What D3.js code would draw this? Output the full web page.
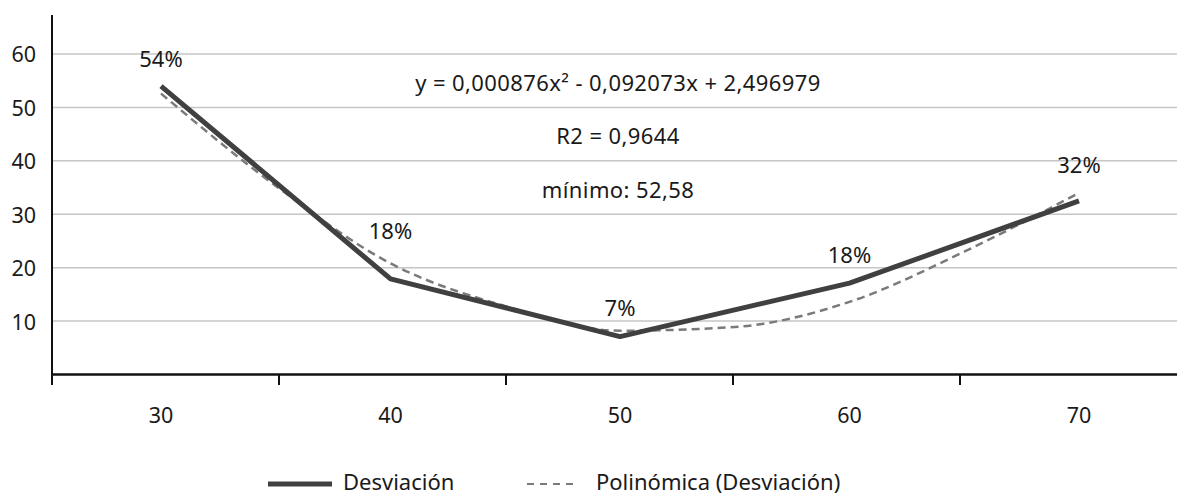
<!DOCTYPE html>
<html>
<head>
<meta charset="utf-8">
<script src="https://cdn.jsdelivr.net/npm/d3@7"></script>
<style>
  html, body { margin: 0; padding: 0; background: #fff; }
  svg { display: block; font-family: "Noto Sans", "Open Sans", sans-serif; }
</style>
</head>
<body>
<svg id="chart" width="1177" height="495"></svg>
<script>
// ---- data ----
const categories = [30, 40, 50, 60, 70];
const desviacion = [54, 17.9, 7.1, 17.1, 32.5];
const labels = ["54%", "18%", "7%", "18%", "32%"];
// polynomial trend line
const trendX = [30, 35, 40, 45, 50, 55, 60, 65, 70];
const trendY = [52.6, 35.3, 20.8, 12.8, 8.2, 8.9, 13.6, 23.0, 34.0];
const yTicks = [10, 20, 30, 40, 50, 60];
const annotations = ["y = 0,000876x\u00b2 - 0,092073x + 2,496979", "R2 = 0,9644", "mínimo: 52,58"];
const legendNames = ["Desviación", "Polinómica (Desviación)"];

const svg = d3.select("#chart");

const x = d3.scaleLinear().domain([30, 70]).range([161, 1079]);
const band = d3.scaleBand().domain(categories).range([52, 1187]).padding(0);
const y = d3.scaleLinear().domain([0, 67.3]).range([374.5, 15]);

const FS = 21.5;

// gridlines
svg.append("g").selectAll("line").data(yTicks).join("line")
  .attr("x1", 52).attr("x2", 1177)
  .attr("y1", d => y(d)).attr("y2", d => y(d))
  .attr("stroke", "#c6c6c6").attr("stroke-width", 1.5);

// y tick labels
svg.append("g").selectAll("text").data(yTicks).join("text")
  .attr("x", 36).attr("y", d => y(d))
  .attr("text-anchor", "end").attr("dominant-baseline", "central")
  .attr("font-size", FS).attr("fill", "#1a1a1a")
  .text(d => d);

// axes lines
svg.append("line").attr("x1", 52).attr("x2", 52).attr("y1", 15).attr("y2", 385)
  .attr("stroke", "#111").attr("stroke-width", 2);
svg.append("line").attr("x1", 51).attr("x2", 1177).attr("y1", y(0)).attr("y2", y(0))
  .attr("stroke", "#111").attr("stroke-width", 2.5);
// x tick marks at band boundaries
svg.append("g").selectAll("line").data(categories).join("line")
  .attr("x1", d => band(d)).attr("x2", d => band(d))
  .attr("y1", y(0)).attr("y2", 385)
  .attr("stroke", "#111").attr("stroke-width", 2);
// x labels
svg.append("g").selectAll("text").data(categories).join("text")
  .attr("x", d => x(d)).attr("y", 414)
  .attr("text-anchor", "middle").attr("dominant-baseline", "central")
  .attr("font-size", FS).attr("fill", "#1a1a1a")
  .text(d => d);

// trend line
const trendPts = trendX.map((v, i) => [v, trendY[i]]);
svg.append("path")
  .datum(trendPts)
  .attr("d", d3.line().x(d => x(d[0])).y(d => y(d[1])).curve(d3.curveMonotoneX))
  .attr("fill", "none").attr("stroke", "#7a7a7a").attr("stroke-width", 2.5)
  .attr("stroke-dasharray", "8,5");

// main line
const pts = categories.map((c, i) => [c, desviacion[i]]);
svg.append("path")
  .datum(pts)
  .attr("d", d3.line().x(d => x(d[0])).y(d => y(d[1])))
  .attr("fill", "none").attr("stroke", "#404040").attr("stroke-width", 5)
  .attr("stroke-linejoin", "round");

// data labels
const labelDy = [-28, -49, -30, -29, -37];
svg.append("g").selectAll("text").data(pts).join("text")
  .attr("x", d => x(d[0]))
  .attr("y", (d, i) => y(d[1]) + labelDy[i])
  .attr("text-anchor", "middle").attr("dominant-baseline", "central")
  .attr("font-size", 22).attr("fill", "#1a1a1a")
  .text((d, i) => labels[i]);

// annotations
const annY = [82, 135, 189];
svg.append("g").selectAll("text").data(annotations).join("text")
  .attr("x", 618).attr("y", (d, i) => annY[i])
  .attr("text-anchor", "middle").attr("dominant-baseline", "central")
  .attr("font-size", 22).attr("fill", "#1a1a1a")
  .attr("letter-spacing", 0.4)
  .text(d => d);

// legend
const lg = svg.append("g");
lg.append("line").attr("x1", 268).attr("x2", 332).attr("y1", 484).attr("y2", 484)
  .attr("stroke", "#404040").attr("stroke-width", 5);
lg.append("text").attr("x", 343).attr("y", 481).attr("dominant-baseline", "central")
  .attr("font-size", 22).attr("fill", "#1a1a1a").text(legendNames[0]);
lg.append("line").attr("x1", 527).attr("x2", 577).attr("y1", 484).attr("y2", 484)
  .attr("stroke", "#7a7a7a").attr("stroke-width", 2).attr("stroke-dasharray", "7,6");
lg.append("text").attr("x", 596).attr("y", 481).attr("dominant-baseline", "central")
  .attr("font-size", 22).attr("fill", "#1a1a1a").text(legendNames[1]);
</script>
</body>
</html>
